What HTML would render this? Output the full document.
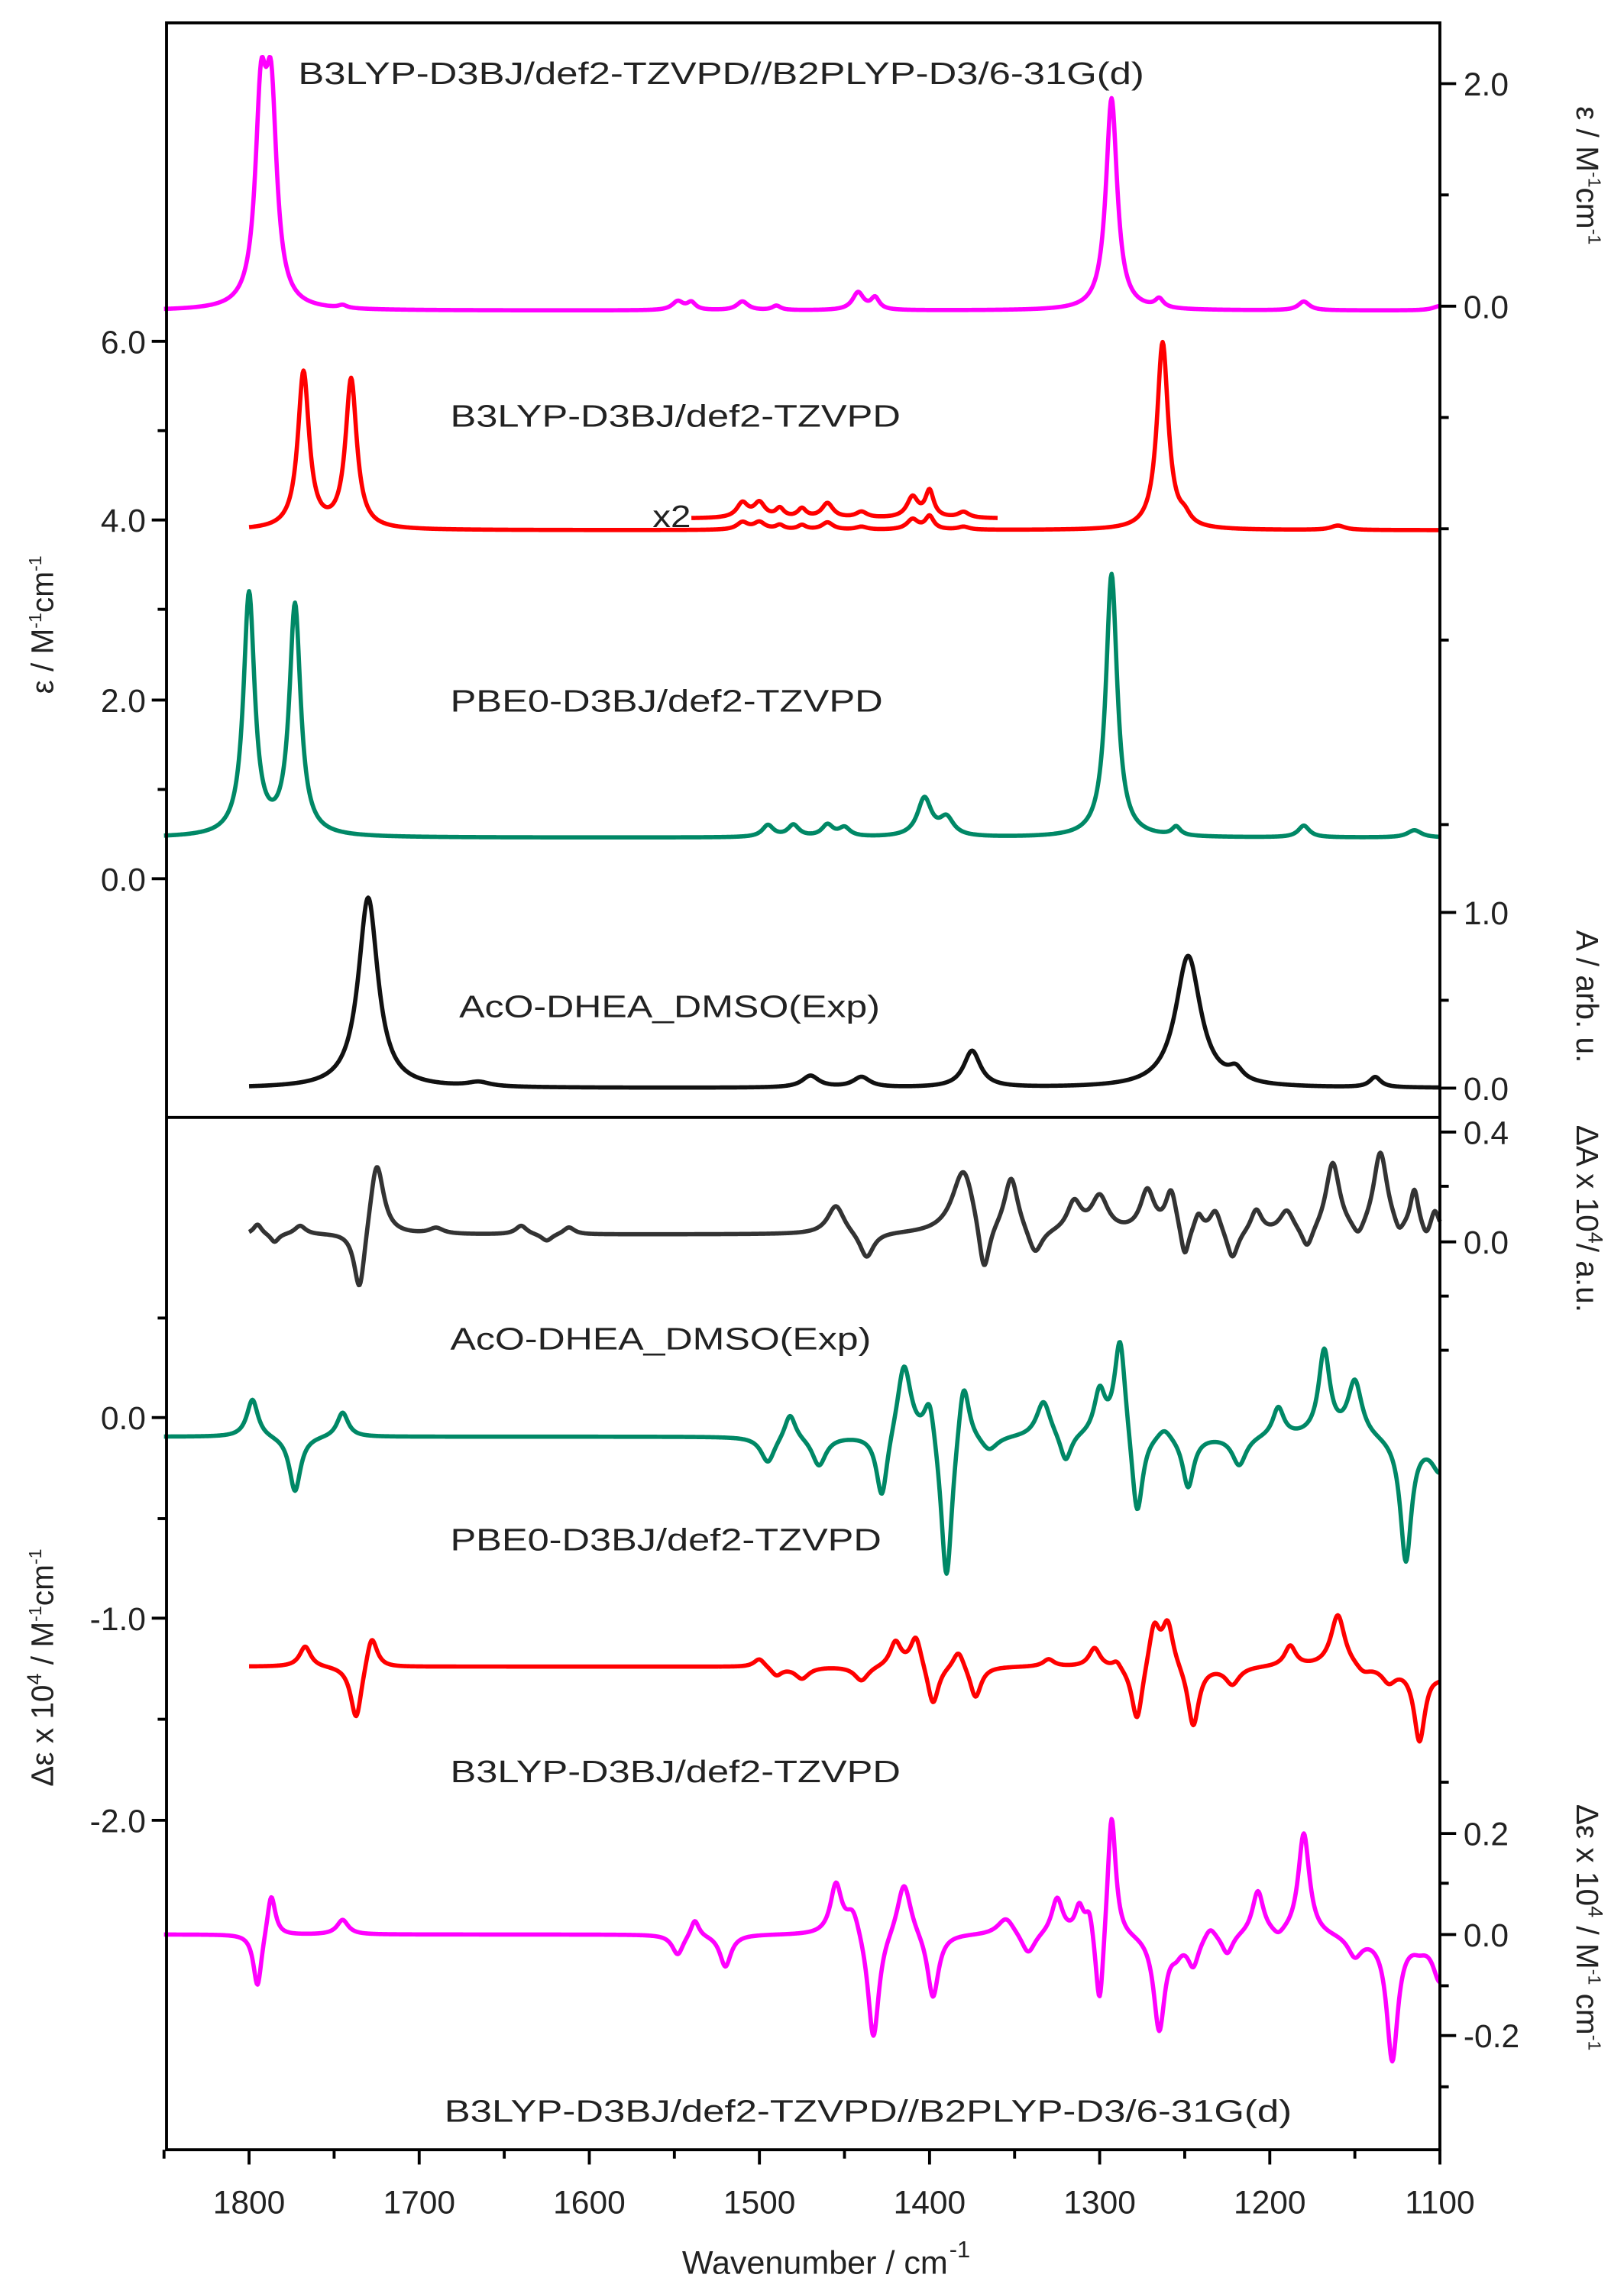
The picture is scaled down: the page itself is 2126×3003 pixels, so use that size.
<!DOCTYPE html>
<html><head><meta charset="utf-8">
<style>
html,body{margin:0;padding:0;background:#fff;}
svg{display:block;}
text{font-family:"Liberation Sans",sans-serif;fill:#222;}
</style></head>
<body>
<svg id="s" width="2126" height="3003" viewBox="0 0 1100 1553.7" preserveAspectRatio="none" xmlns="http://www.w3.org/2000/svg">
<g id="curves" fill="none" stroke-width="2.9" stroke-linejoin="round"></g>
<g id="axes" stroke="#000" stroke-width="2" fill="none"></g>
<g font-size="21">
<text x="202" y="57" textLength="573" lengthAdjust="spacingAndGlyphs">B3LYP-D3BJ/def2-TZVPD//B2PLYP-D3/6-31G(d)</text>
<text x="305" y="289" textLength="305" lengthAdjust="spacingAndGlyphs">B3LYP-D3BJ/def2-TZVPD</text>
<text x="442" y="357" textLength="26" lengthAdjust="spacingAndGlyphs">x2</text>
<text x="305" y="482" textLength="293" lengthAdjust="spacingAndGlyphs">PBE0-D3BJ/def2-TZVPD</text>
<text x="311" y="689" textLength="285" lengthAdjust="spacingAndGlyphs">AcO-DHEA_DMSO(Exp)</text>
<text x="305" y="914" textLength="285" lengthAdjust="spacingAndGlyphs">AcO-DHEA_DMSO(Exp)</text>
<text x="305" y="1050" textLength="292" lengthAdjust="spacingAndGlyphs">PBE0-D3BJ/def2-TZVPD</text>
<text x="305" y="1207" textLength="305" lengthAdjust="spacingAndGlyphs">B3LYP-D3BJ/def2-TZVPD</text>
<text x="301" y="1437" textLength="574" lengthAdjust="spacingAndGlyphs">B3LYP-D3BJ/def2-TZVPD//B2PLYP-D3/6-31G(d)</text>
</g>
<g id="ticklabels" font-size="22"></g>
<text x="462" y="1540" font-size="22" textLength="180" lengthAdjust="spacingAndGlyphs">Wavenumber / cm</text>
<text x="643" y="1529" font-size="16">-1</text>
<g font-size="21">
<text transform="translate(36,470) rotate(-90)">ε  / M<tspan font-size="12" dy="-8">-1</tspan><tspan dy="8">cm</tspan><tspan font-size="12" dy="-8">-1</tspan></text>
<text transform="translate(36,1210) rotate(-90)">Δε x 10<tspan font-size="14" dy="-8">4</tspan><tspan dy="8"> / M</tspan><tspan font-size="12" dy="-8">-1</tspan><tspan dy="8">cm</tspan><tspan font-size="12" dy="-8">-1</tspan></text>
<text transform="translate(1068,72) rotate(90)">ε  / M<tspan font-size="12" dy="-8">-1</tspan><tspan dy="8">cm</tspan><tspan font-size="12" dy="-8">-1</tspan></text>
<text transform="translate(1068,630) rotate(90)">A / arb. u.</text>
<text transform="translate(1068,762) rotate(90)">ΔA x 10<tspan font-size="14" dy="-8">4</tspan><tspan dy="8">/ a.u.</tspan></text>
<text transform="translate(1068,1222) rotate(90)">Δε x 10<tspan font-size="14" dy="-8">4</tspan><tspan dy="8"> / M</tspan><tspan font-size="12" dy="-8">-1</tspan><tspan dy="8"> cm</tspan><tspan font-size="12" dy="-8">-1</tspan></text>
</g>
</svg>
<script>
var NS="http://www.w3.org/2000/svg";
function X(w){return 168.7+(1800-w)*1.1523;}
function Y(y){return y-(y-15)*0.00826;}
function el(p,tag,attrs,txt){var e=document.createElementNS(NS,tag);for(var k in attrs)e.setAttribute(k,attrs[k]);if(txt!==undefined)e.textContent=txt;document.getElementById(p).appendChild(e);return e;}
function curve(color,base,w0,w1,peaks,mult){
  mult=mult||1;var d="";
  for(var w=w0;w>=w1-0.01;w-=0.5){
    var v=0;for(var i=0;i<peaks.length;i++){var p=peaks[i];var t=(w-p[0])/p[2];v+=p[1]/(1+t*t);}
    var y=Y(base-v*mult);d+=(d?"L":"M")+X(w).toFixed(2)+" "+y.toFixed(2);
  }
  el("curves","path",{d:d,stroke:color});
}
var M="#ff00ff",R="#ff0000",G="#008866",K="#111",K2="#333";
curve(M,212,1850,1100,[[1793,130,4],[1787,130,4],[1293,145,4],[1548,6,4],[1540,5,3],[1510,6,4],[1490,3,3],[1442,12,4],[1432,8,3],[1265,6,3],[1180,6,4],[1745,2,3],[1100,3,5]]);
var redS=[[1510,5,4],[1500,5,4],[1488,3,3],[1475,3,3],[1460,5,4],[1440,2,4],[1410,7,4],[1400,9,3],[1380,2,4]];
curve(R,362,1800,1100,[[1768,107,4],[1740,102,4],[1263,128,4],[1250,6,4],[1160,3,5]].concat(redS));
curve(R,354,1540,1360,redS,2);
curve(G,572,1850,1100,[[1800,165,4],[1773,157,4],[1293,180,4],[1403,26,5],[1390,12,5],[1495,8,4],[1480,8,4],[1460,8,4],[1450,6,4],[1255,6,3],[1180,8,4],[1115,5,5]]);
curve(K,743,1800,1100,[[1730,130,7],[1248,90,9],[1375,25,6],[1470,8,6],[1440,7,6],[1665,3,8],[1220,8,5],[1138,7,4]]);
curve(K2,843,1800,1100,[[1795,7,3],[1785,-6,3],[1770,6,4],[1735,-45,4],[1725,52,5],[1690,4,5],[1640,6,4],[1625,-5,4],[1612,5,4],[1455,20,6],[1437,-18,5],[1380,45,8],[1368,-38,4],[1352,38,5],[1338,-18,5],[1315,20,5],[1300,24,6],[1272,28,5],[1258,28,4],[1250,-22,3],[1242,12,3],[1232,16,4],[1222,-20,4],[1208,16,4],[1190,15,5],[1178,-15,4],[1163,48,5],[1148,-10,4],[1135,55,5],[1124,-8,3],[1115,28,3],[1108,-8,3],[1103,15,3]]);
curve(G,981,1850,1100,[[1798,26,4],[1773,-38,4],[1745,17,4],[1495,-18,5],[1482,18,4],[1465,-20,5],[1428,-45,4],[1415,52,5],[1400,30,4],[1390,-105,4],[1380,45,4],[1365,-10,6],[1333,25,5],[1320,-20,4],[1300,30,4],[1288,70,4],[1278,-60,4],[1262,8,5],[1248,-35,4],[1218,-20,5],[1195,20,4],[1168,58,4],[1150,38,5],[1120,-85,4],[1100,-22,6]]);
curve(R,1138,1800,1100,[[1767,14,4],[1737,-38,4],[1728,24,4],[1500,6,4],[1490,-6,4],[1475,-8,5],[1440,-10,5],[1420,17,4],[1408,22,4],[1398,-28,4],[1383,13,4],[1373,-22,4],[1330,5,4],[1303,13,4],[1290,5,3],[1278,-40,4],[1268,30,4],[1260,30,4],[1245,-42,4],[1222,-12,5],[1188,14,4],[1160,36,5],[1145,-5,5],[1130,-10,5],[1112,-50,4],[1100,-5,5]]);
curve(M,1321,1850,1100,[[1795,-38,3],[1787,30,3],[1745,10,4],[1548,-14,4],[1538,12,3],[1520,-22,4],[1455,34,4],[1445,18,5],[1433,-75,4],[1415,38,5],[1398,-45,4],[1355,12,6],[1342,-15,5],[1325,25,4],[1312,18,3],[1306,18,3],[1300,-60,3],[1293,88,3],[1265,-65,4],[1255,-8,4],[1245,-20,4],[1235,8,4],[1225,-14,4],[1207,30,4],[1195,-5,4],[1180,70,4],[1150,-14,5],[1128,-85,4],[1112,-5,5],[1100,-30,5]]);
var L=112.8,Rr=975.3,T=15.5,B=1456,D=Y(763);
el("axes","rect",{x:L,y:T,width:Rr-L,height:B-T});
el("axes","line",{x1:L,y1:D,x2:Rr,y2:D});
function tk(x1,y1,x2,y2){el("axes","line",{x1:x1,y1:y1,x2:x2,y2:y2});}
function lab(x,y,t,anchor){el("ticklabels","text",{x:x,y:y,"text-anchor":anchor||"start"},t);}
for(var w=1850;w>=1100;w-=50){var x=X(w);var maj=(w%100==0);tk(x,B,x,B+(maj?10:6));if(maj)lab(x,1499,""+w,"middle");}
function leftTicks(vals,labels){for(var i=0;i<vals.length;i++){var y=Y(vals[i]);var maj=labels[i]!=null;tk(L,y,L-(maj?10:6),y);if(maj)lab(L-14,y+8,labels[i],"end");}}
leftTicks([233,294,355,416,478,539,600],["6.0",null,"4.0",null,"2.0",null,"0.0"]);
leftTicks([900,968,1037,1105,1174,1243],[null,"0.0",null,"-1.0",null,"-2.0"]);
function rightTicks(vals,labels){for(var i=0;i<vals.length;i++){var y=Y(vals[i]);var maj=labels[i]!=null;tk(Rr,y,Rr+(maj?11:6),y);if(maj)lab(Rr+16,y+8,labels[i]);}}
rightTicks([57,133,209,285,361,437,563],["2.0",null,"0.0",null,null,null,null]);
rightTicks([623,683,743],["1.0",null,"0.0"]);
rightTicks([773,810,848,885,922],["0.4",null,"0.0",null,null]);
rightTicks([1217,1252,1286,1321,1356,1390,1425],[null,"0.2",null,"0.0",null,"-0.2",null]);
</script>
</body></html>
